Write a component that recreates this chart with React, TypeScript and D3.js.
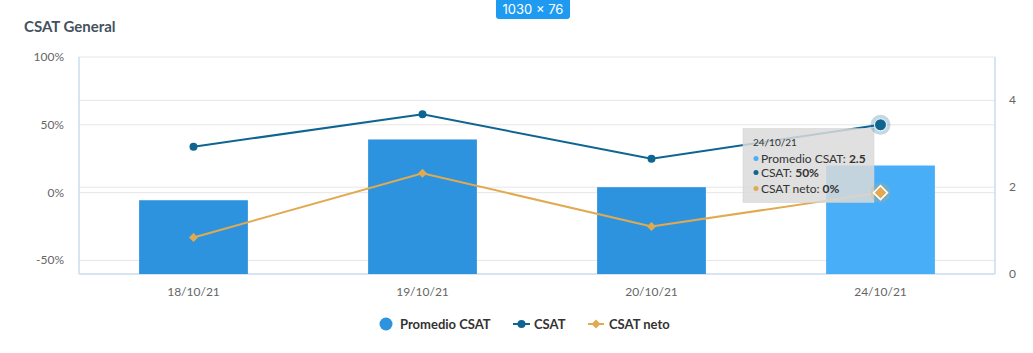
import React from "react";
import * as d3 from "d3";

const categories = ["18/10/21", "19/10/21", "20/10/21", "24/10/21"];
const promedioCSAT = [1.7, 3.1, 2.0, 2.5];
const csat = [33.9, 57.7, 25, 50];
const csatNeto = [-33.1, 14.3, -25, 0];
const leftTicks = [-50, 0, 50, 100];
const rightTicks = [0, 2, 4];
const hoverIndex = 3;

const W = 1033;
const H = 353;
const M = { left: 79, right: 995, top: 57, bottom: 274 };

const BAR = "#2E93DE";
const BAR_HOVER = "#48AEF7";
const CSAT_C = "#0E6591";
const NETO_C = "#E2AA50";
const FONT = "Lato, 'Open Sans', sans-serif";

export default function App() {
  const x = d3.scaleBand<string>().domain(categories).range([M.left, M.right]).padding(0);
  const yL = d3.scaleLinear().domain([-60, 100]).range([M.bottom, M.top]);
  const yR = d3.scaleLinear().domain([0, 5]).range([M.bottom, M.top]);
  const bw = x.bandwidth() * 0.475;
  const cx = (c: string) => (x(c) as number) + x.bandwidth() / 2;

  const lineL = d3
    .line<number>()
    .x((_, i) => cx(categories[i]))
    .y((d) => yL(d));

  const diamond = (px: number, py: number, r: number) =>
    `M${px},${py - r}L${px + r},${py}L${px},${py + r}L${px - r},${py}Z`;

  const hx = cx(categories[hoverIndex]);

  return (
    <svg
      width={W}
      height={H}
      style={{ position: "absolute", left: 0, top: 0, fontFamily: FONT }}
    >
      <rect x={0} y={0} width={W} height={H} fill="#fff" />
      {/* title */}
      <text x={24} y={32} fontSize={15} fontWeight={700} fill="#44525f">
        CSAT General
      </text>

      {/* gridlines left */}
      {leftTicks.map((t) => (
        <line key={"gl" + t} x1={M.left} x2={M.right} y1={yL(t)} y2={yL(t)} stroke="#e6e6e6" strokeWidth={1} />
      ))}
      {rightTicks.filter((t) => t > 0).map((t) => (
        <line key={"gr" + t} x1={M.left} x2={M.right} y1={yR(t)} y2={yR(t)} stroke="#e6e6e6" strokeWidth={1} />
      ))}
      {/* axes lines */}
      <line x1={M.left} x2={M.left} y1={M.top} y2={M.bottom} stroke="#c8dcec" strokeWidth={1.5} />
      <line x1={M.right} x2={M.right} y1={M.top} y2={M.bottom} stroke="#c8dcec" strokeWidth={1.5} />
      <line x1={M.left} x2={M.right} y1={M.bottom} y2={M.bottom} stroke="#c8dcec" strokeWidth={1.5} />

      {/* left tick labels */}
      {leftTicks.map((t) => (
        <text key={"lt" + t} x={64} y={yL(t) + 4} fontSize={12} fill="#666" textAnchor="end">
          {t + "%"}
        </text>
      ))}
      {/* right tick labels */}
      {rightTicks.map((t) => (
        <text key={"rt" + t} x={1009} y={yR(t) + 4} fontSize={12} fill="#666" textAnchor="start">
          {t}
        </text>
      ))}
      {/* category labels */}
      {categories.map((c) => (
        <text key={"c" + c} x={cx(c)} y={296} fontSize={12} fill="#666" textAnchor="middle">
          {c}
        </text>
      ))}

      {/* bars */}
      {promedioCSAT.map((v, i) => (
        <rect
          key={"b" + i}
          x={cx(categories[i]) - bw / 2}
          y={yR(v)}
          width={bw}
          height={yR(0) - yR(v)}
          fill={i === hoverIndex ? BAR_HOVER : BAR}
        />
      ))}

      {/* lines */}
      <path d={lineL(csatNeto) || ""} fill="none" stroke={NETO_C} strokeWidth={2} />
      <path d={lineL(csat) || ""} fill="none" stroke={CSAT_C} strokeWidth={2} />

      {/* tooltip */}
      <g>
        <rect x={743} y={128.5} width={131} height={74} fill="rgba(218,218,218,0.85)" stroke="#d0d0d0" strokeWidth={0.5} />
        <text x={753} y={146} fontSize={10} fill="#333">
          {categories[hoverIndex]}
        </text>
        <circle cx={756} cy={158.5} r={2.5} fill={BAR_HOVER} />
        <text x={761} y={163} fontSize={12} fill="#333">
          Promedio CSAT: <tspan fontWeight={700}>{promedioCSAT[hoverIndex]}</tspan>
        </text>
        <circle cx={756} cy={172.5} r={2.5} fill={CSAT_C} />
        <text x={761} y={177} fontSize={12} fill="#333">
          CSAT: <tspan fontWeight={700}>{csat[hoverIndex] + "%"}</tspan>
        </text>
        <circle cx={756} cy={188.5} r={2.5} fill={NETO_C} />
        <text x={761} y={193} fontSize={12} fill="#333">
          CSAT neto: <tspan fontWeight={700}>{csatNeto[hoverIndex] + "%"}</tspan>
        </text>
      </g>

      {/* markers */}
      {csatNeto.map((v, i) =>
        i === hoverIndex ? (
          <g key={"n" + i}>
            <circle cx={hx} cy={yL(v)} r={10} fill={NETO_C} opacity={0.25} />
            <path d={diamond(hx, yL(v), 7)} fill={NETO_C} stroke="#fff" strokeWidth={1.5} />
          </g>
        ) : (
          <path key={"n" + i} d={diamond(cx(categories[i]), yL(v), 4.5)} fill={NETO_C} />
        )
      )}
      {csat.map((v, i) =>
        i === hoverIndex ? (
          <g key={"s" + i}>
            <circle cx={hx} cy={yL(v)} r={10} fill={CSAT_C} opacity={0.25} />
            <circle cx={hx} cy={yL(v)} r={6} fill={CSAT_C} stroke="#fff" strokeWidth={1} />
          </g>
        ) : (
          <circle key={"s" + i} cx={cx(categories[i])} cy={yL(v)} r={4} fill={CSAT_C} />
        )
      )}

      {/* legend */}
      <g fontSize={13} fontWeight={700} fill="#333">
        <circle cx={386} cy={324} r={6.5} fill={BAR} />
        <text x={400} y={329}>Promedio CSAT</text>
        <line x1={513} x2={530} y1={324} y2={324} stroke={CSAT_C} strokeWidth={2} />
        <circle cx={521.5} cy={324} r={4} fill={CSAT_C} />
        <text x={534} y={329}>CSAT</text>
        <line x1={588} x2={604} y1={324} y2={324} stroke={NETO_C} strokeWidth={2} />
        <path d={diamond(596, 324, 4.5)} fill={NETO_C} />
        <text x={609} y={329}>CSAT neto</text>
      </g>

      {/* size badge overlay */}
      <g>
        <path d="M496,0H570V16Q570,19 567,19H499Q496,19 496,16Z" fill="#1E9BF0" />
        <text x={533} y={14} fontSize={13} fill="#fff" textAnchor="middle" fontFamily="Inter, sans-serif">
          1030 × 76
        </text>
      </g>
    </svg>
  );
}
